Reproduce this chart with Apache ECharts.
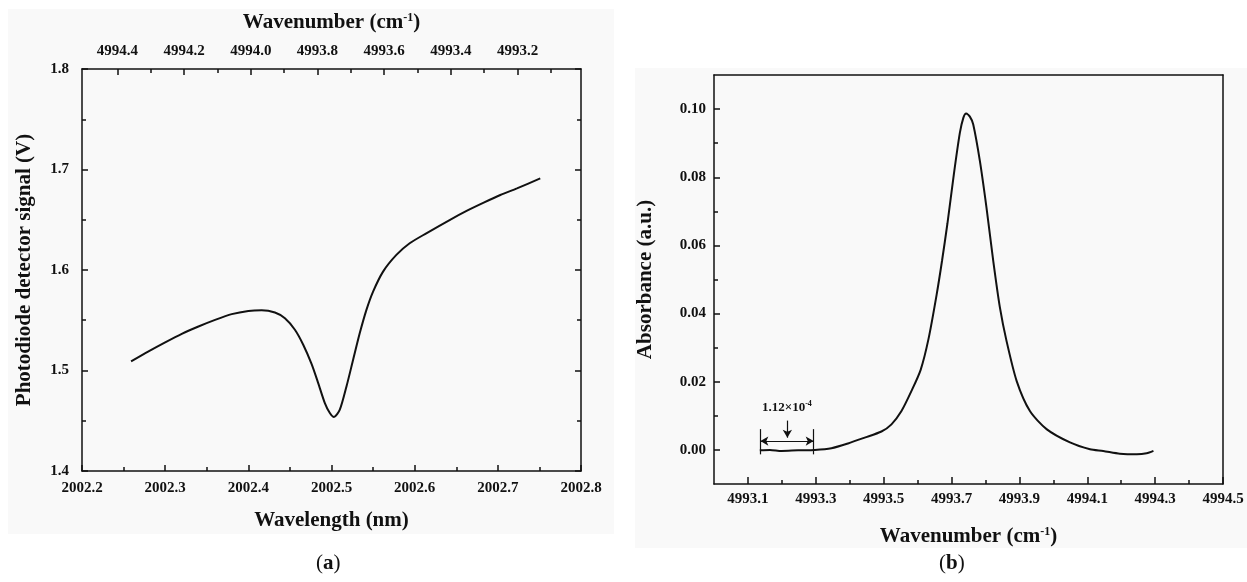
<!DOCTYPE html>
<html>
<head>
<meta charset="utf-8">
<script src="https://cdn.jsdelivr.net/npm/echarts@6/dist/echarts.min.js"></script>
<style>
  html, body { margin: 0; padding: 0; background: #fff; }
  #chart { width: 1247px; height: 582px; }
</style>
</head>
<body>
<div id="chart"></div>
<script>
// (a) photodiode signal vs wavelength
const wavelengthNm = [2002.259, 2002.280, 2002.300, 2002.320, 2002.340, 2002.360, 2002.380, 2002.400, 2002.416,
  2002.432, 2002.444, 2002.456, 2002.466, 2002.476, 2002.484, 2002.492, 2002.498, 2002.503, 2002.510, 2002.518,
  2002.526, 2002.534, 2002.542, 2002.550, 2002.562, 2002.578, 2002.594, 2002.614, 2002.642, 2002.663, 2002.683,
  2002.703, 2002.723, 2002.751];
const signalV = [1.509, 1.519, 1.528, 1.5365, 1.5438, 1.5504, 1.5561, 1.5593, 1.5600,
  1.5577, 1.552, 1.5405, 1.5256, 1.5065, 1.4875, 1.4676, 1.4577, 1.4537, 1.461, 1.4841,
  1.5107, 1.5372, 1.5603, 1.5785, 1.5984, 1.615, 1.6266, 1.6365, 1.6497, 1.659, 1.667,
  1.6746, 1.6812, 1.6912];

// (b) absorbance vs wavenumber
const absWavenumber = [4993.135, 4993.165, 4993.199, 4993.2475, 4993.297, 4993.346, 4993.395, 4993.444, 4993.4935,
  4993.523, 4993.5525, 4993.582, 4993.609, 4993.632, 4993.656, 4993.672, 4993.688, 4993.707, 4993.7245, 4993.735,
  4993.743, 4993.754, 4993.764, 4993.7835, 4993.803, 4993.823, 4993.8425, 4993.862, 4993.892, 4993.931, 4993.980,
  4994.049, 4994.108, 4994.147, 4994.196, 4994.246, 4994.275, 4994.295];
const absorbance = [-0.0001, 0.0000, -0.0003, -0.0001, 0.0000, 0.0005, 0.0019, 0.0036, 0.0054,
  0.0075, 0.0114, 0.0173, 0.0235, 0.0325, 0.0455, 0.0555, 0.0665, 0.0810, 0.0930, 0.0975,
  0.0987, 0.0978, 0.0955, 0.0848, 0.0711, 0.0554, 0.0418, 0.0320, 0.0202, 0.0114, 0.0061,
  0.0022, 0.0002, -0.0003, -0.0011, -0.0013, -0.0010, -0.0003];

// tick labels
const topTicks = [4994.4, 4994.2, 4994.0, 4993.8, 4993.6, 4993.4, 4993.2];
const topMinorTicks = [4994.3, 4994.1, 4993.9, 4993.7, 4993.5, 4993.3, 4993.1];
const absXTicks = [4993.1, 4993.3, 4993.5, 4993.7, 4993.9, 4994.1, 4994.3, 4994.5];
const absXMinor = [4993.2, 4993.4, 4993.6, 4993.8, 4994.0, 4994.2, 4994.4];
const absYTicks = [0, 0.02, 0.04, 0.06, 0.08, 0.10];
const absYMinor = [0.01, 0.03, 0.05, 0.07, 0.09];

const FONT = 'Liberation Serif';
const INK = '#111';
const lbl = { fontFamily: FONT, fontWeight: 'bold', fontSize: 15, color: INK };
const nameStyle = {
  fontFamily: FONT, fontWeight: 'bold', fontSize: 21, color: INK,
  rich: { sup: { fontFamily: FONT, fontWeight: 'bold', fontSize: 12, color: INK, padding: [0, 0, 10, 0] } }
};
const line = { show: true, onZero: false, lineStyle: { color: INK, width: 1.5 } };
const noLine = { show: false };
const tickIn = (len, vals) => Object.assign({ show: true, inside: true, length: len, lineStyle: { color: INK, width: 1.5 } },
  vals ? { customValues: vals } : {});
const minor = { show: true, splitNumber: 2, length: 4, lineStyle: { color: INK, width: 1.5 } };

const chart = echarts.init(document.getElementById('chart'));
chart.setOption({
  backgroundColor: '#fff',
  animation: false,
  graphic: [
    { type: 'rect', z: -10, shape: { x: 8, y: 9, width: 606, height: 525 }, style: { fill: '#f9f9f9' } },
    { type: 'rect', z: -10, shape: { x: 635, y: 68, width: 612, height: 480 }, style: { fill: '#f9f9f9' } },
    { type: 'text', left: 316, top: 553, style: { text: '({b|a})', fontFamily: FONT, fontSize: 21, fill: INK,
      rich: { b: { fontFamily: FONT, fontSize: 21, fontWeight: 'bold', fill: INK } } } },
    { type: 'text', left: 939, top: 553, style: { text: '({b|b})', fontFamily: FONT, fontSize: 21, fill: INK,
      rich: { b: { fontFamily: FONT, fontSize: 21, fontWeight: 'bold', fill: INK } } } }
  ],
  grid: [
    { left: 82, top: 69, width: 499, height: 402 },
    { left: 714, top: 75, width: 509, height: 409 }
  ],
  xAxis: [
    { // 0: wavelength, bottom of (a)
      gridIndex: 0, type: 'value', position: 'bottom', min: 2002.2, max: 2002.8, interval: 0.1,
      axisLine: line, splitLine: noLine,
      axisTick: tickIn(6), minorTick: minor, minorSplitLine: noLine,
      axisLabel: Object.assign({ margin: 10, formatter: v => v.toFixed(1) }, lbl),
      name: 'Wavelength (nm)', nameLocation: 'middle', nameGap: 39, nameTextStyle: nameStyle
    },
    { // 1: wavenumber, top of (a)
      gridIndex: 0, type: 'value', position: 'top', inverse: true,
      min: 1e7 / 2002.8, max: 1e7 / 2002.2,
      axisLine: line, splitLine: noLine,
      axisTick: tickIn(6, topTicks),
      axisLabel: Object.assign({ margin: 10, customValues: topTicks, formatter: v => v.toFixed(1) }, lbl),
      name: 'Wavenumber (cm{sup|-1})', nameLocation: 'middle', nameGap: 35, nameTextStyle: nameStyle
    },
    { // 2: minor ticks on top of (a)
      gridIndex: 0, type: 'value', position: 'top', inverse: true,
      min: 1e7 / 2002.8, max: 1e7 / 2002.2,
      axisLine: noLine, splitLine: noLine, axisLabel: { show: false },
      axisTick: tickIn(4, topMinorTicks)
    },
    { // 3: wavenumber, bottom of (b)
      gridIndex: 1, type: 'value', position: 'bottom', min: 4993.0, max: 4994.5,
      axisLine: line, splitLine: noLine,
      axisTick: tickIn(7, absXTicks),
      axisLabel: Object.assign({ margin: 8, customValues: absXTicks, formatter: v => v.toFixed(1) }, lbl),
      name: 'Wavenumber (cm{sup|-1})', nameLocation: 'middle', nameGap: 42, nameTextStyle: nameStyle
    },
    { // 4: minor ticks bottom of (b)
      gridIndex: 1, type: 'value', position: 'bottom', min: 4993.0, max: 4994.5,
      axisLine: { show: false, onZero: false }, splitLine: noLine, axisLabel: { show: false },
      axisTick: tickIn(4, absXMinor)
    },
    { // 5: frame top of (b)
      gridIndex: 1, type: 'value', position: 'top', min: 4993.0, max: 4994.5,
      axisLine: line, splitLine: noLine, axisLabel: { show: false }, axisTick: { show: false }
    }
  ],
  yAxis: [
    { // 0: signal, left of (a)
      gridIndex: 0, type: 'value', position: 'left', min: 1.4, max: 1.8, interval: 0.1,
      axisLine: line, splitLine: noLine,
      axisTick: tickIn(6), minorTick: minor, minorSplitLine: noLine,
      axisLabel: Object.assign({ margin: 13, formatter: v => v.toFixed(1) }, lbl),
      name: 'Photodiode detector signal (V)', nameLocation: 'middle', nameGap: 47, nameTextStyle: nameStyle
    },
    { // 1: mirror right of (a)
      gridIndex: 0, type: 'value', position: 'right', min: 1.4, max: 1.8, interval: 0.1,
      axisLine: line, splitLine: noLine, axisLabel: { show: false },
      axisTick: tickIn(6), minorTick: minor, minorSplitLine: noLine
    },
    { // 2: absorbance, left of (b)
      gridIndex: 1, type: 'value', position: 'left', min: -0.01, max: 0.11,
      axisLine: line, splitLine: noLine,
      axisTick: tickIn(6, absYTicks),
      axisLabel: Object.assign({ margin: 8, customValues: absYTicks, formatter: v => v.toFixed(2) }, lbl),
      name: 'Absorbance (a.u.)', nameLocation: 'middle', nameGap: 58, nameTextStyle: nameStyle
    },
    { // 3: minor ticks left of (b)
      gridIndex: 1, type: 'value', position: 'left', min: -0.01, max: 0.11,
      axisLine: { show: false, onZero: false }, splitLine: noLine, axisLabel: { show: false },
      axisTick: tickIn(4, absYMinor)
    },
    { // 4: frame right of (b)
      gridIndex: 1, type: 'value', position: 'right', min: -0.01, max: 0.11,
      axisLine: line, splitLine: noLine, axisLabel: { show: false }, axisTick: { show: false }
    }
  ],
  series: [
    {
      type: 'line', xAxisIndex: 0, yAxisIndex: 0, smooth: 0.25, symbol: 'none',
      lineStyle: { color: INK, width: 2 },
      data: wavelengthNm.map((x, i) => [x, signalV[i]])
    },
    {
      type: 'line', xAxisIndex: 3, yAxisIndex: 2, smooth: 0.25, symbol: 'none',
      lineStyle: { color: INK, width: 2 },
      data: absWavenumber.map((x, i) => [x, absorbance[i]]),
      markLine: {
        silent: true, symbolSize: [7, 8], animation: false,
        lineStyle: { color: INK, width: 1.2, type: 'solid' },
        label: { show: false },
        data: [
          [{ coord: [4993.1366, -0.0013], symbol: 'none' }, { coord: [4993.1366, 0.0061], symbol: 'none' }],
          [{ coord: [4993.2938, -0.0013], symbol: 'none' }, { coord: [4993.2938, 0.0061], symbol: 'none' }],
          [{ coord: [4993.1366, 0.0026], symbol: 'arrow' }, { coord: [4993.2938, 0.0026], symbol: 'arrow' }],
          [{ coord: [4993.2162, 0.0086], symbol: 'none' }, { coord: [4993.2162, 0.0036], symbol: 'arrow' }]
        ]
      },
      markPoint: {
        silent: true, symbol: 'circle', symbolSize: 0,
        label: {
          show: true, position: 'inside', formatter: '1.12×10{sup|-4}',
          fontFamily: FONT, fontWeight: 'bold', fontSize: 13, color: INK,
          rich: { sup: { fontFamily: FONT, fontWeight: 'bold', fontSize: 8, color: INK, padding: [0, 0, 7, 0] } }
        },
        data: [{ coord: [4993.215, 0.0124] }]
      }
    }
  ]
});
</script>
</body>
</html>
